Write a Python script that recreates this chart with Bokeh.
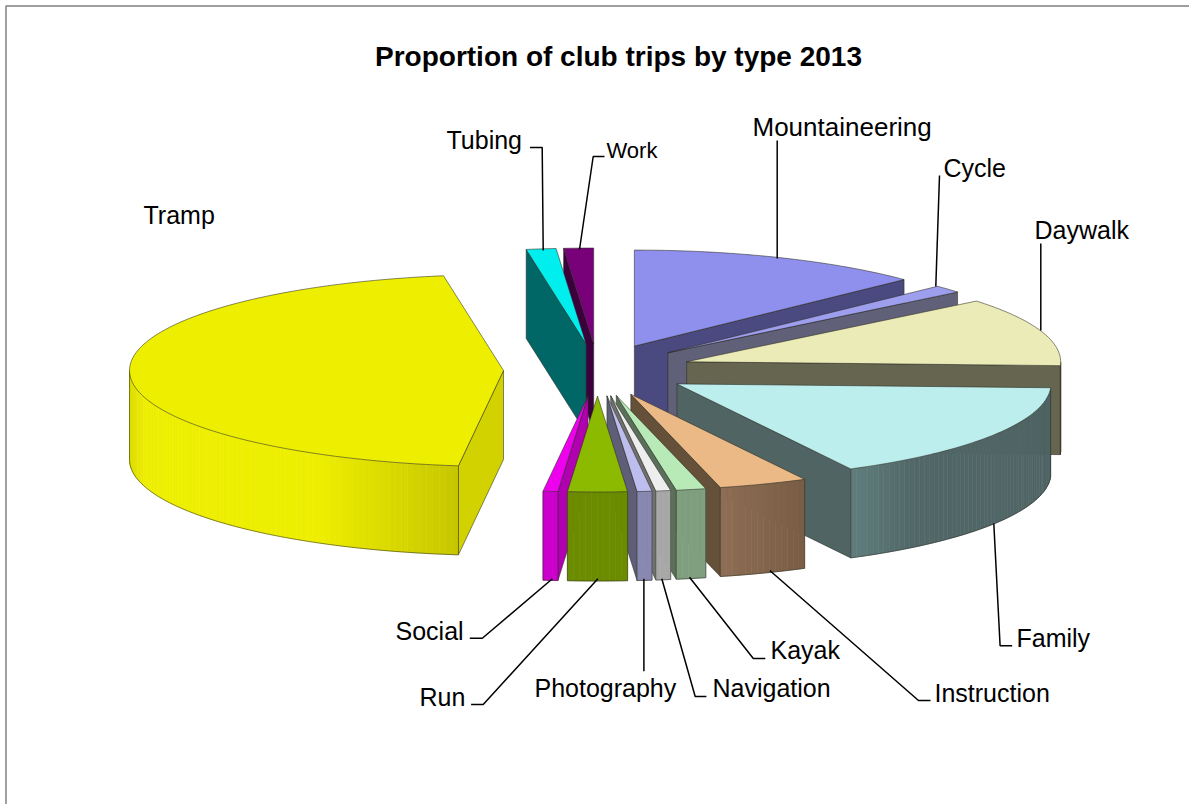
import math
from bokeh.embed import file_html
from bokeh.models import Range1d
from bokeh.plotting import figure
from bokeh.resources import INLINE

# Number of club trips per type in 2013, clockwise from twelve o'clock
categories = ["Mountaineering", "Cycle", "Daywalk", "Family", "Instruction", "Kayak",
              "Navigation", "Photography", "Run", "Social", "Tramp", "Tubing", "Work"]
trips = [20, 2, 18, 26, 6, 2, 1, 1, 4, 1, 71, 2, 2]

title_text = "Proportion of club trips by type 2013"

# Projection of the tilted, exploded pie onto the page
CX, CY = 597.0, 369.5
RX, RY = 374.0, 96.0
EXPLODE_X, EXPLODE_Y = 94.0, 26.0
DEPTH = 89.0

# top face, radial wall, arc wall stops as (sin of angle, colour)
STYLE = {
    "Mountaineering": ("#8f8fee", "#4a4a80", [(0, "#4a4a80")]),
    "Cycle": ("#9e9eee", "#606078", [(0, "#606078")]),
    "Daywalk": ("#ebebb8", "#666650", [(0, "#666650")]),
    "Family": ("#bceeee", "#506464", [(0.48, "#5f7c7c"), (0.62, "#526868"), (1, "#4f6464")]),
    "Instruction": ("#ebb985", "#655039", [(0.24, "#8e6e54"), (0.48, "#775b42")]),
    "Kayak": ("#b8eab8", "#5a705a", [(0, "#7f9f7f")]),
    "Navigation": ("#eeeeee", "#707070", [(0, "#a8a8a8")]),
    "Photography": ("#bebeee", "#5e5e78", [(0, "#8888b0")]),
    "Run": ("#8cba00", "#6c8c00", [(0, "#6c8c00")]),
    "Social": ("#ee00ee", "#b000b0", [(0, "#cc00cc")]),
    "Tramp": ("#eeee00", "#d2d200", [(-1, "#dcdc00"), (-0.96, "#eeee00"), (-0.5, "#eeee00"),
                                     (-0.115, "#c6c600")]),
    "Tubing": ("#00eeee", "#006666", [(0, "#006666")]),
    "Work": ("#780078", "#3c003c", [(0, "#3c003c")]),
}

# Label text: left edge, vertical centre, size in px
LABELS = {
    "Tramp": (143, 214, 25), "Tubing": (446, 139, 25), "Work": (606, 150, 22),
    "Mountaineering": (752, 126, 26), "Cycle": (943, 167, 25), "Daywalk": (1034, 229, 25),
    "Family": (1016, 637, 25), "Instruction": (934, 692, 25), "Kayak": (770, 649, 25),
    "Navigation": (712, 687, 25), "Photography": (534, 687, 25), "Run": (419, 696, 25),
    "Social": (395, 630, 25),
}

# Leader line routes from the label to the slice
LEADERS = {
    "Tubing": [(529.5, 147), (541.7, 147), (542.7, 250)],
    "Work": [(604, 156), (592.7, 156), (579, 249)],
    "Mountaineering": [(776.7, 140), (776.7, 258)],
    "Cycle": [(939, 175), (935.3, 286)],
    "Daywalk": [(1040.3, 243), (1040.3, 330)],
    "Family": [(1011.7, 645.3), (999.6, 645.3), (993.3, 523)],
    "Instruction": [(930, 700), (918, 700), (769.3, 570)],
    "Kayak": [(764.8, 658), (752.8, 658), (689, 576.7)],
    "Navigation": [(705.9, 696), (694.7, 696), (661.3, 578.3)],
    "Photography": [(643.4, 670.7), (643.4, 578.3)],
    "Run": [(470.6, 704), (482.7, 704), (597.4, 578.3)],
    "Social": [(469.3, 637.7), (481.8, 637.7), (551.9, 578.3)],
}


def mix(stops, u):
    """Interpolate a colour from (position, hex) stops."""
    if len(stops) == 1 or u <= stops[0][0]:
        return stops[0][1]
    for (u0, c0), (u1, c1) in zip(stops, stops[1:]):
        if u <= u1:
            t = (u - u0) / (u1 - u0)
            rgb = [round(int(c0[i:i + 2], 16) * (1 - t) + int(c1[i:i + 2], 16) * t) for i in (1, 3, 5)]
            return "#%02x%02x%02x" % tuple(rgb)
    return stops[-1][1]


def build_slices():
    total = sum(trips)
    start = 0.0
    slices = []
    for name, n in zip(categories, trips):
        end = start + 360.0 * n / total
        mid = math.radians((start + end) / 2)
        slices.append({"name": name, "start": start, "end": end,
                       "ax": CX + EXPLODE_X * math.sin(mid),
                       "ay": CY - EXPLODE_Y * math.cos(mid)})
        start = end
    return slices


def rim(s, deg, z=0.0):
    a = math.radians(deg)
    return s["ax"] + RX * math.sin(a), s["ay"] - RY * math.cos(a) + z


def arc_degrees(a, b, step=1.0):
    n = max(2, int(math.ceil((b - a) / step)) + 1)
    return [a + (b - a) * i / (n - 1) for i in range(n)]


p = figure(width=1189, height=804, output_backend="svg", toolbar_location=None,
           x_range=Range1d(0, 1189), y_range=Range1d(804, 0),
           min_border=0, outline_line_color=None, background_fill_color="white",
           border_fill_color="white")
p.axis.visible = False
p.grid.visible = False

# Chart frame
p.line([5.5, 5.5, 1189], [804, 5.5, 5.5], line_color="#808080", line_width=1.5)

EDGE = dict(line_color="#2a2a20", line_alpha=0.55, line_width=1)

# Slices painted from back to front
for s in sorted(build_slices(), key=lambda q: (q["ay"], q["ax"])):
    top, wall, arc_stops = STYLE[s["name"]]
    apex = (s["ax"], s["ay"])

    # Radial walls that face the viewer
    for deg, visible in ((s["start"], math.sin(math.radians(s["start"])) < -1e-9),
                         (s["end"], math.sin(math.radians(s["end"])) > 1e-9)):
        if visible:
            x1, y1 = rim(s, deg)
            p.patch([apex[0], x1, x1, apex[0]], [apex[1], y1, y1 + DEPTH, apex[1] + DEPTH],
                    fill_color=wall, **EDGE)

    # Outer wall, shaded strip by strip across the front half of the rim
    a0, a1 = max(s["start"], 90.0), min(s["end"], 270.0)
    if a1 > a0:
        degs = arc_degrees(a0, a1)
        for d0, d1 in zip(degs, degs[1:]):
            x0, y0 = rim(s, d0)
            x1, y1 = rim(s, d1)
            colour = mix(arc_stops, math.sin(math.radians((d0 + d1) / 2)))
            p.patch([x0, x1, x1, x0], [y0, y1, y1 + DEPTH, y0 + DEPTH],
                    fill_color=colour, line_color=colour, line_width=0.6)
        xs = [rim(s, d)[0] for d in degs]
        upper = [rim(s, d)[1] for d in degs]
        p.line(xs, [y + DEPTH for y in upper], **EDGE)
        p.line([xs[0], xs[0]], [upper[0], upper[0] + DEPTH], **EDGE)
        p.line([xs[-1], xs[-1]], [upper[-1], upper[-1] + DEPTH], **EDGE)

    # Top face
    degs = arc_degrees(s["start"], s["end"])
    pts = [rim(s, d) for d in degs]
    p.patch([apex[0]] + [q[0] for q in pts], [apex[1]] + [q[1] for q in pts],
            fill_color=top, **EDGE)

# Leader lines
for name, route in LEADERS.items():
    p.line([q[0] for q in route], [q[1] for q in route], line_color="black", line_width=1.5)

# Category labels
for name, (x, y, size) in LABELS.items():
    p.text([x], [y], text=[name], text_font={"value": "Liberation Sans"},
           text_font_size=f"{size}px", text_color="black",
           text_align="left", text_baseline="middle")

# Chart title
p.text([618], [56], text=[title_text], text_font={"value": "Liberation Sans"},
       text_font_style="bold", text_font_size="28px", text_color="black",
       text_align="center", text_baseline="middle")

open("out.html", "w").write(file_html(p, INLINE))
